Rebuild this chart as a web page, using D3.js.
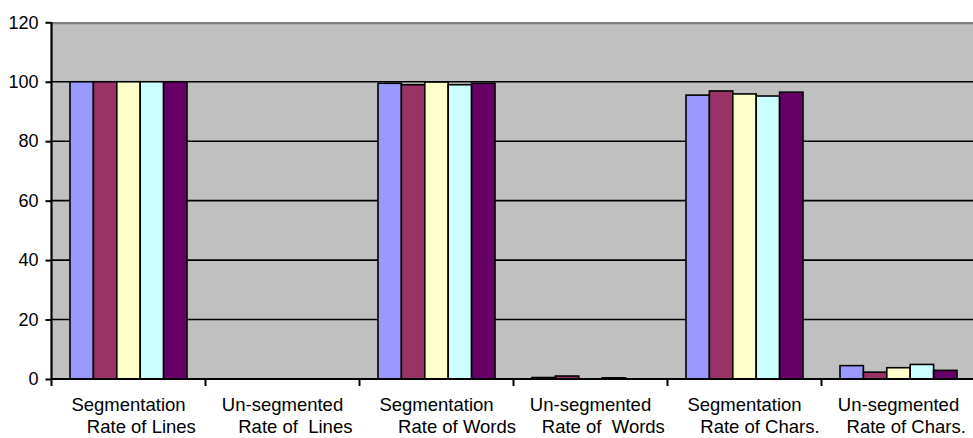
<!DOCTYPE html>
<html>
<head>
<meta charset="utf-8">
<script src="https://cdn.jsdelivr.net/npm/d3@7"></script>
<style>
  html, body { margin: 0; padding: 0; background: #fff; }
  svg { display: block; }
  text { font-family: Arial, "Liberation Sans", sans-serif; fill: #000; }
</style>
</head>
<body>
<svg id="chart" width="973" height="438"></svg>
<script>
// Category labels: each entry holds the two wrapped lines shown under the axis.
const categoryLines = [
  ["Segmentation", "     Rate of Lines"],
  ["Un-segmented", "     Rate of  Lines"],
  ["Segmentation", "        Rate of Words"],
  ["Un-segmented", "     Rate of  Words"],
  ["Segmentation", "      Rate of Chars."],
  ["Un-segmented", "   Rate of Chars."]
];
const categories = categoryLines.map(d => d.join(" "));

// Five series, one value per category.
const seriesNames = ["S1", "S2", "S3", "S4", "S5"];
const s1 = [100, 0, 99.5, 0.5, 95.5, 4.5];
const s2 = [100, 0, 99.0, 1.0, 96.9, 2.3];
const s3 = [100, 0, 99.9, 0.0, 95.9, 3.8];
const s4 = [100, 0, 99.0, 0.4, 95.2, 4.9];
const s5 = [100, 0, 99.5, 0.0, 96.5, 2.9];
const seriesValues = [s1, s2, s3, s4, s5];
const seriesColors = ["#9999FF", "#993366", "#FFFFCC", "#CCFFFF", "#660066"];

const yTicks = [0, 20, 40, 60, 80, 100, 120];

const svg = d3.select("#chart");
const plotLeft = 51.5, plotTop = 22.3, plotBottom = 379, catStep = 154;

const x0 = d3.scaleBand()
  .domain(categories)
  .range([plotLeft, plotLeft + catStep * categories.length])
  .paddingInner(0).paddingOuter(0);

const x1 = d3.scaleBand()
  .domain(seriesNames)
  .range([0, x0.bandwidth()])
  .paddingInner(0).paddingOuter(0.79);

const y = d3.scaleLinear().domain([0, 120]).range([plotBottom, plotTop]);

const color = d3.scaleOrdinal().domain(seriesNames).range(seriesColors);

const plotRight = x0.range()[1];

// Plot area background
svg.append("rect")
  .attr("x", plotLeft)
  .attr("y", y(120))
  .attr("width", plotRight - plotLeft)
  .attr("height", y(0) - y(120))
  .attr("fill", "#C0C0C0");

// Horizontal gridlines
svg.append("g")
  .selectAll("line")
  .data(yTicks.filter(t => t > 0 && t < 120))
  .join("line")
  .attr("x1", plotLeft)
  .attr("x2", plotRight)
  .attr("y1", d => y(d))
  .attr("y2", d => y(d))
  .attr("stroke", "#000")
  .attr("stroke-width", 1.6);

// Top border of the plot area
svg.append("line")
  .attr("x1", plotLeft)
  .attr("x2", plotRight)
  .attr("y1", y(120) + 0.8)
  .attr("y2", y(120) + 0.8)
  .attr("stroke", "#7a7a7a")
  .attr("stroke-width", 2.4);

// Bars
const rows = [];
categories.forEach((c, i) => {
  seriesNames.forEach((s, j) => {
    rows.push({ category: c, series: s, value: seriesValues[j][i] });
  });
});

svg.append("g")
  .selectAll("rect")
  .data(rows.filter(d => d.value > 0))
  .join("rect")
  .attr("x", d => x0(d.category) + x1(d.series))
  .attr("y", d => y(d.value))
  .attr("width", x1.bandwidth())
  .attr("height", d => y(0) - y(d.value))
  .attr("fill", d => color(d.series))
  .attr("stroke", "#000")
  .attr("stroke-width", 1.6);

// Y axis
const yAxis = d3.axisLeft(y)
  .tickValues(yTicks)
  .tickSize(6)
  .tickPadding(7)
  .tickFormat(d3.format("d"));

const gy = svg.append("g")
  .attr("transform", `translate(${plotLeft},0)`)
  .call(yAxis);
gy.select(".domain").attr("stroke", "#000").attr("stroke-width", 2.2)
  .attr("d", `M0,${plotBottom}V${plotTop}`);
gy.selectAll(".tick line").attr("stroke", "#000").attr("stroke-width", 2);
gy.selectAll(".tick text")
  .style("font-size", "18px")
  .style("font-family", "Arial, 'Liberation Sans', sans-serif")
  .attr("fill", "#000");

// X axis: ticks at category boundaries
const boundaries = d3.range(categories.length + 1).map(i => plotLeft + i * catStep);
const gx = svg.append("g");
gx.append("line")
  .attr("x1", plotLeft)
  .attr("x2", plotRight)
  .attr("y1", plotBottom)
  .attr("y2", plotBottom)
  .attr("stroke", "#000")
  .attr("stroke-width", 2.2);
gx.selectAll("line.tick")
  .data(boundaries)
  .join("line")
  .attr("class", "tick")
  .attr("x1", d => d)
  .attr("x2", d => d)
  .attr("y1", plotBottom)
  .attr("y2", plotBottom + 7)
  .attr("stroke", "#000")
  .attr("stroke-width", 2);

// Category labels (two lines each)
const labels = svg.append("g")
  .selectAll("text")
  .data(categoryLines.map((lines, i) => ({ lines, category: categories[i] })))
  .join("text")
  .attr("text-anchor", "middle")
  .style("white-space", "pre")
  .style("font-size", "18.5px");

labels.selectAll("tspan")
  .data(d => d.lines.map((t, k) => ({ t, k, cx: x0(d.category) + x0.bandwidth() / 2 })))
  .join("tspan")
  .attr("x", d => d.cx)
  .attr("y", d => 411 + d.k * 22)
  .text(d => d.t);
</script>
</body>
</html>
